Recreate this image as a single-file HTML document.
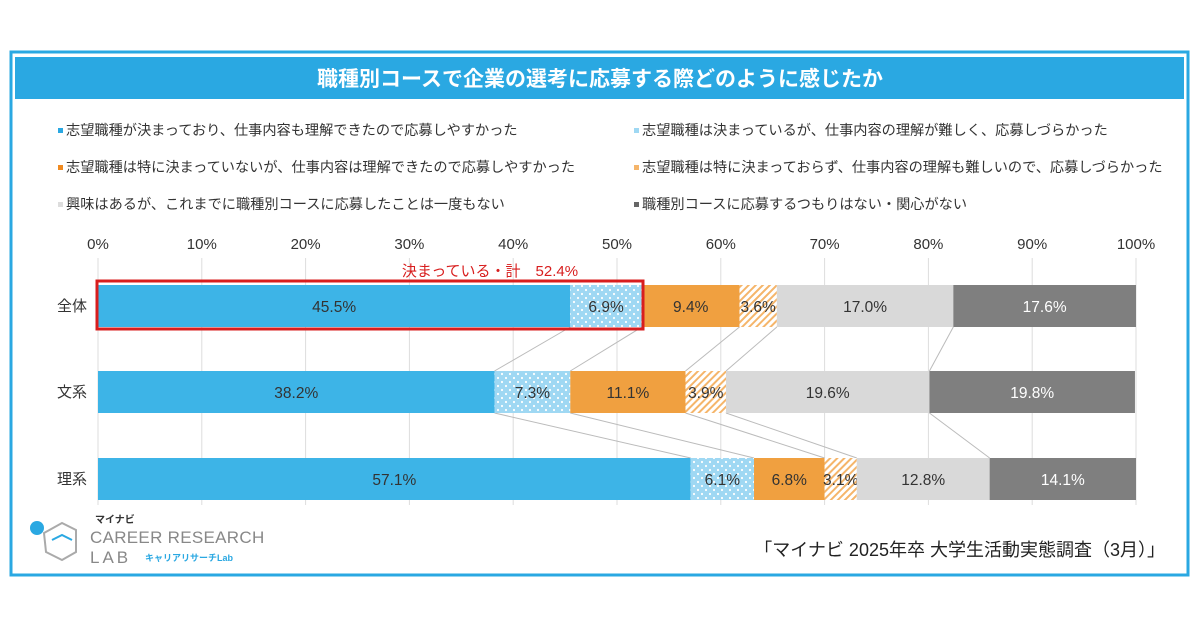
<!DOCTYPE html>
<html><head><meta charset="utf-8">
<style>
body{margin:0;background:#fff;font-family:"Liberation Sans","Noto Sans CJK JP",sans-serif;}
#wrap{position:relative;width:1200px;height:630px;overflow:hidden;background:#fff;}
</style></head><body>
<div id="wrap">
<svg id="svg" width="1200" height="630" xmlns="http://www.w3.org/2000/svg" font-family="Liberation Sans, Noto Sans CJK JP, sans-serif">
<defs>
<pattern id="dots" width="8" height="8" patternUnits="userSpaceOnUse"><rect width="8" height="8" fill="#9fd8f3"/><circle cx="2" cy="2" r="1.1" fill="#fff"/><circle cx="6" cy="6" r="1.1" fill="#fff"/></pattern>
<pattern id="hatch" width="5" height="5" patternUnits="userSpaceOnUse" patternTransform="rotate(45)"><rect width="5" height="5" fill="#fff"/><rect width="2" height="5" fill="#f5b56a"/></pattern>
</defs>
<rect x="11" y="52" width="1177" height="523" fill="none" stroke="#2aa8e2" stroke-width="3"/>
<rect x="15" y="57" width="1169" height="42" fill="#2aa8e2"/>
<text x="600" y="86" text-anchor="middle" font-size="21" font-weight="bold" fill="#fff">職種別コースで企業の選考に応募する際どのように感じたか</text>
<g id="legend" fill="#333"></g>
<g id="grid"></g>
<g id="conn"></g>
<g id="bars"></g>
<rect x="97" y="281" width="546" height="48" fill="none" stroke="#d81e1e" stroke-width="3"/>
<text x="490" y="276" text-anchor="middle" font-size="15" fill="#d81e1e">決まっている・計　52.4%</text>
<g>
<circle cx="37" cy="528" r="7" fill="#2aa8e2"/>
<path d="M44 533 L62 523 L76 530 L76 552 L62 560 L46 552 Z" fill="none" stroke="#aaa" stroke-width="2"/>
<path d="M52 540 L62 535 L72 540" fill="none" stroke="#2aa8e2" stroke-width="2"/>
<text x="95" y="523" font-size="10" font-weight="bold" fill="#333">マイナビ</text>
<text x="90" y="543" font-size="17" fill="#888" letter-spacing="0.3">CAREER RESEARCH</text>
<text x="90" y="563" font-size="17" fill="#888" letter-spacing="3">LAB</text>
<text x="145" y="561" font-size="9" font-weight="bold" fill="#2aa8e2">キャリアリサーチLab</text>
</g>
<text x="1165" y="556" text-anchor="end" font-size="18" fill="#222">「マイナビ 2025年卒 大学生活動実態調査（3月）」</text>
</svg>
</div>
<script>
const categories=["全体","文系","理系"];
const seriesNames=["志望職種が決まっており、仕事内容も理解できたので応募しやすかった","志望職種は決まっているが、仕事内容の理解が難しく、応募しづらかった","志望職種は特に決まっていないが、仕事内容は理解できたので応募しやすかった","志望職種は特に決まっておらず、仕事内容の理解も難しいので、応募しづらかった","興味はあるが、これまでに職種別コースに応募したことは一度もない","職種別コースに応募するつもりはない・関心がない"];
const s1=[45.5,38.2,57.1];
const s2=[6.9,7.3,6.1];
const s3=[9.4,11.1,6.8];
const s4=[3.6,3.9,3.1];
const s5=[17.0,19.6,12.8];
const s6=[17.6,19.8,14.1];
const ticks=[0,10,20,30,40,50,60,70,80,90,100];
const series=[s1,s2,s3,s4,s5,s6];
const fills=["#3db4e7","url(#dots)","#f0a040","url(#hatch)","#d9d9d9","#7f7f7f"];
const legFill=["#2aa8e2","#9fd8f3","#f08a20","#f5b56a","#ddd","#666"];
const slugs=["decided-understood","decided-hard","undecided-understood","undecided-hard","interested-not-applied","not-interested"];
const NS="http://www.w3.org/2000/svg";
const x=v=>98+v*10.38;
const yTop=[285,371,458], bh=42;
function mk(t,a,p){const e=document.createElementNS(NS,t);for(const k in a)e.setAttribute(k,a[k]);p.appendChild(e);return e;}
const grid=document.getElementById('grid');
ticks.forEach(t=>{
  const l=mk('line',{x1:x(t),x2:x(t),y1:258,y2:505,stroke:'#ddd','stroke-width':1},grid);
  
  
  const tx=mk('text',{x:x(t),y:249,'text-anchor':'middle','font-size':15,fill:'#333'},grid);
  tx.textContent=t+'%';
  
  
});
const leg=document.getElementById('legend');
seriesNames.forEach((n,i)=>{
  const lx=i%2?642:66, ly=133+Math.floor(i/2)*37;
  const g=mk('g',{},leg);
  
  
  mk('rect',{x:lx-8,y:ly-5,width:5,height:5,fill:legFill[i]},g);
  const t=mk('text',{x:lx,y:ly+2,'font-size':14.2,fill:'#333'},g);t.textContent=n;
});
const cum=categories.map((c,ci)=>{let a=[0];series.forEach(s=>a.push(a[a.length-1]+s[ci]));return a;});
const conn=document.getElementById('conn');
for(let ci=0;ci<categories.length-1;ci++){
  for(let k=1;k<6;k++){
    const l=mk('line',{x1:x(cum[ci][k]),y1:yTop[ci]+bh,x2:x(cum[ci+1][k]),y2:yTop[ci+1],stroke:'#bbb','stroke-width':1},conn);
    
    
  }
}
const bars=document.getElementById('bars');
categories.forEach((c,ci)=>{
  const lab=mk('text',{x:72,y:yTop[ci]+bh/2+5,'text-anchor':'middle','font-size':15,fill:'#333'},bars);
  lab.textContent=c;
  
  
  series.forEach((s,si)=>{
    const x0=x(cum[ci][si]), w=s[ci]*10.38;
    const r=mk('rect',{x:x0,y:yTop[ci],width:w,height:bh,fill:fills[si]},bars);
    
    
    const t=mk('text',{x:x0+w/2,y:yTop[ci]+bh/2+6,'text-anchor':'middle','font-size':15.5,fill:si==5?'#fff':'#333'},bars);
    t.textContent=s[ci].toFixed(1)+'%';
    
    
  });
});
</script>
</body></html>
